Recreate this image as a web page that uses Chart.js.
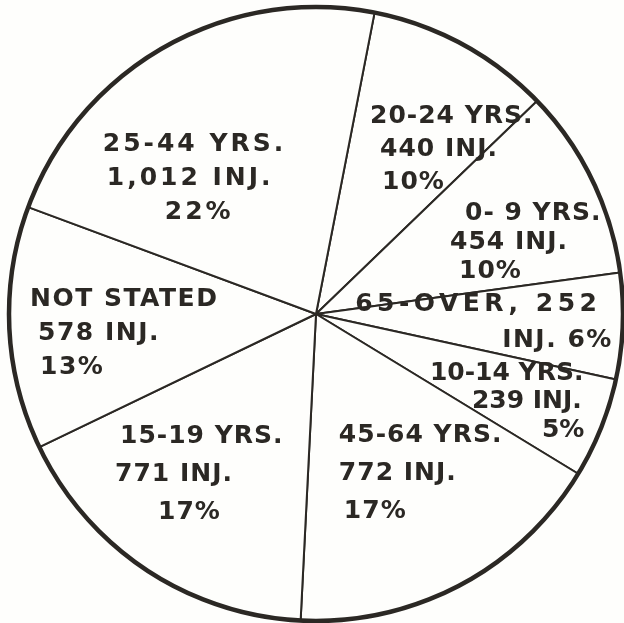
<!DOCTYPE html>
<html>
<head>
<meta charset="utf-8">
<script src="https://cdn.jsdelivr.net/npm/chart.js@4.4.1/dist/chart.umd.min.js"></script>
<style>
  html, body { margin: 0; padding: 0; background: #fefefc; }
  #wrap { width: 624px; height: 623px; position: relative; }
</style>
</head>
<body>
<div id="wrap"><canvas id="chart"></canvas></div>
<script>
// injuries by age group, clockwise from the top
const groups = ['20-24 YRS.', '0- 9 YRS.', '65-OVER', '10-14 YRS.', '45-64 YRS.', '15-19 YRS.', 'NOT STATED', '25-44 YRS.'];
const injuries = [440, 454, 252, 239, 772, 771, 578, 1012];
const percents = [10, 10, 6, 5, 17, 17, 13, 22];

const ink = '#2b2824';

function labelLines(i) {
  const n = injuries[i].toLocaleString('en-US');
  if (groups[i] === '65-OVER') return [`${groups[i]}, ${n}`, `INJ. ${percents[i]}%`];
  return [groups[i], `${n} INJ.`, `${percents[i]}%`];
}

// where each hand-lettered block sits: fraction of radius, angle shift from slice middle (deg),
// line spacing, per-line indent (px) and letter spacing
const placement = [
  { f: 0.572, da: -10.6, lh: 33, indent: [0, 10, 12], ls: 1 },
  { f: 0.499, da: -3.1, lh: 29, indent: [15, 0, 9], ls: 1 },
  { f: 0.129, da: 6.4, lh: 36, indent: [0, 147], ls: 4.5 },
  { f: 0.463, da: 14.9, lh: 28.5, indent: [0, 42, 112], ls: 0 },
  { f: 0.517, da: 19.6, lh: 38, indent: [0, 0, 5], ls: 1 },
  { f: 0.833, da: 18.2, lh: 38, indent: [5, 0, 43], ls: 1 },
  { f: 0.933, da: -0.7, lh: 34, indent: [0, 8, 10], ls: 1.5 },
  { f: 0.827, da: -27.8, lh: 34, indent: [0, 4, 62], ls: 3 },
];

const handLabels = {
  id: 'handLabels',
  afterDatasetsDraw(chart) {
    const ctx = chart.ctx;
    const meta = chart.getDatasetMeta(0);
    const first = meta.data[0];
    ctx.save();
    // heavy outer rim
    ctx.beginPath();
    ctx.arc(first.x, first.y, first.outerRadius, 0, Math.PI * 2);
    ctx.lineWidth = 4.5;
    ctx.strokeStyle = ink;
    ctx.stroke();

    const size = 25;
    ctx.font = `bold ${size}px "DejaVu Sans"`;
    ctx.fillStyle = ink;
    ctx.textAlign = 'left';
    ctx.textBaseline = 'alphabetic';
    meta.data.forEach((arc, i) => {
      const p = placement[i];
      const a = (arc.startAngle + arc.endAngle) / 2 + p.da * Math.PI / 180;
      const ax = arc.x + Math.cos(a) * arc.outerRadius * p.f;
      const ay = arc.y + Math.sin(a) * arc.outerRadius * p.f;
      const lines = labelLines(i);
      lines.forEach((line, j) => {
        // only the first line of the 65-over block is stretched
        ctx.letterSpacing = (groups[i] === '65-OVER' && j > 0 ? 1.5 : p.ls) + 'px';
        const ly = ay + (j - (lines.length - 1) / 2) * p.lh;
        ctx.fillText(line, ax + p.indent[j], ly + size * 0.36);
      });
    });
    ctx.restore();
  },
};

new Chart(document.getElementById('chart'), {
  type: 'pie',
  data: {
    labels: groups,
    datasets: [{
      data: injuries,
      backgroundColor: '#fefefc',
      borderColor: ink,
      borderWidth: 2,
    }],
  },
  options: {
    responsive: true,
    maintainAspectRatio: false,
    animation: false,
    rotation: 11,
    radius: 307,
    layout: { padding: { left: 8, right: 0, top: 5, bottom: 0 } },
    plugins: {
      legend: { display: false },
      tooltip: { enabled: false },
    },
  },
  plugins: [handLabels],
});
</script>
</body>
</html>
